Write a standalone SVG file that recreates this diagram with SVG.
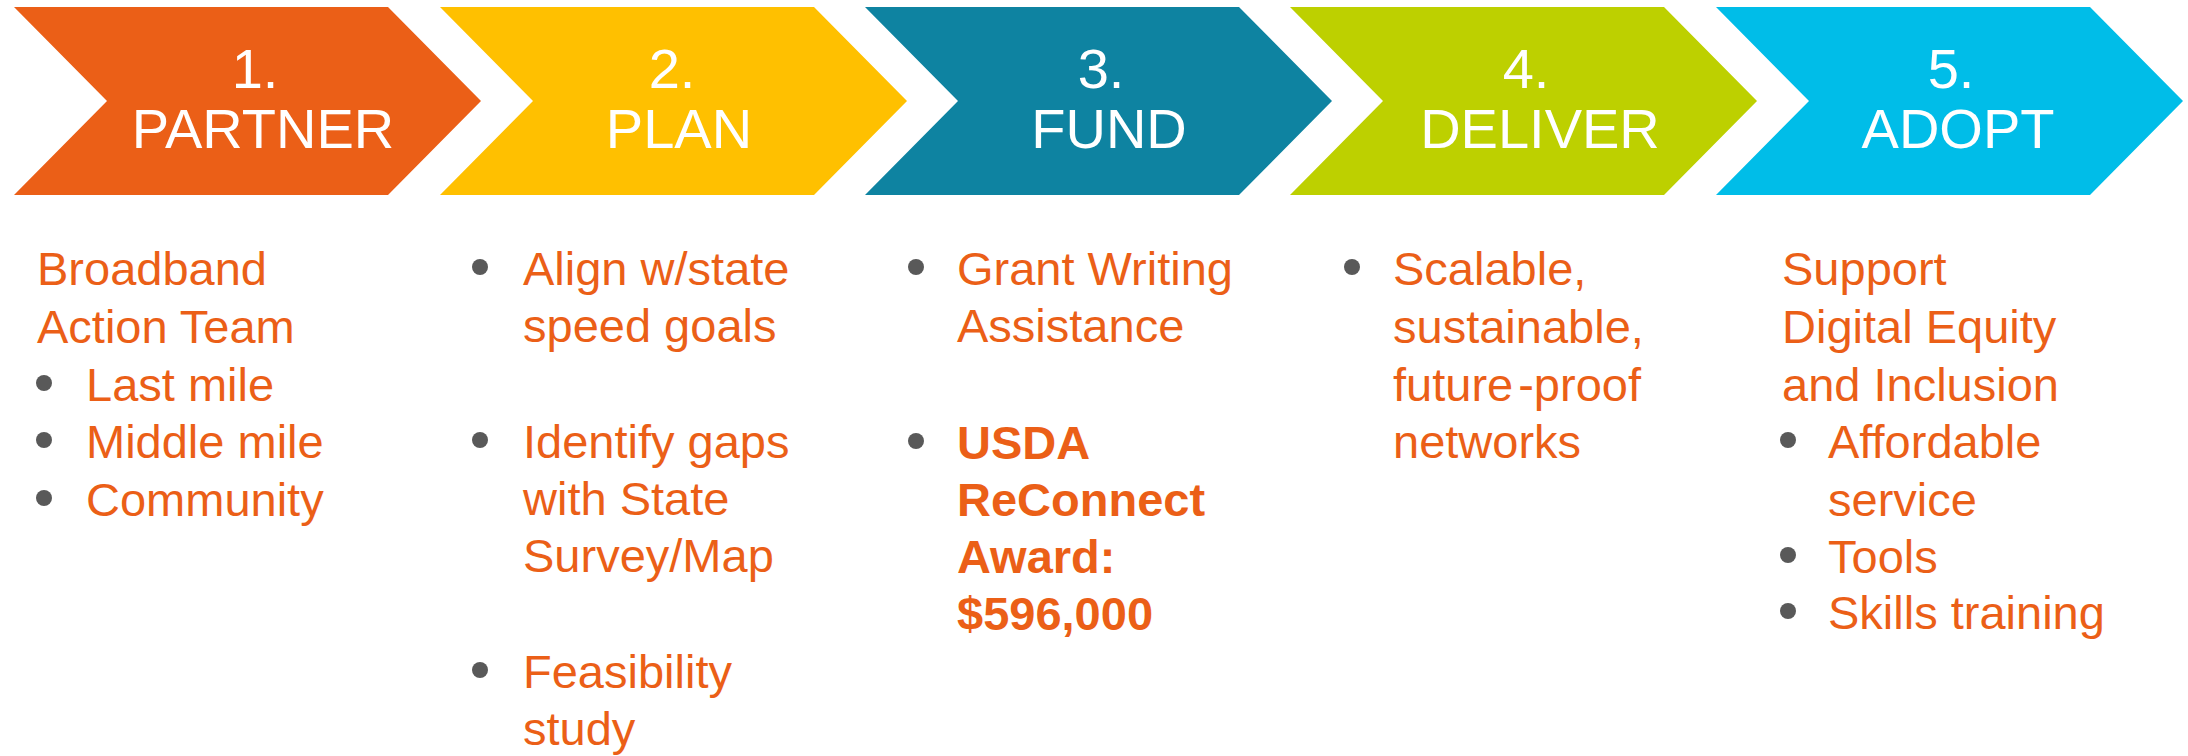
<svg xmlns="http://www.w3.org/2000/svg" width="2188" height="756" viewBox="0 0 2188 756">
<style>
.hd{font-family:"Liberation Sans",Arial,sans-serif;font-size:56px;fill:#fff;text-anchor:middle}
.tx{font-family:"Liberation Sans",Arial,sans-serif;font-size:47px;fill:#EB5F17}
.b{font-weight:bold}
.bu{fill:#595959}
</style>
<rect width="2188" height="756" fill="#fff"/>
<g id="step1">
<polygon points="14,7 388,7 481,101 388,195 14,195 107,101" fill="#EB5F17"/>
<text class="hd" x="255" y="88">1.</text>
<text class="hd" x="263" y="148">PARTNER</text>
</g>
<g id="step2">
<polygon points="440,7 814,7 907,101 814,195 440,195 533,101" fill="#FFC000"/>
<text class="hd" x="672" y="88">2.</text>
<text class="hd" x="679" y="148">PLAN</text>
</g>
<g id="step3">
<polygon points="865,7 1239,7 1332,101 1239,195 865,195 958,101" fill="#0E83A1"/>
<text class="hd" x="1101" y="88">3.</text>
<text class="hd" x="1109" y="148">FUND</text>
</g>
<g id="step4">
<polygon points="1290,7 1664,7 1757,101 1664,195 1290,195 1383,101" fill="#BDD000"/>
<text class="hd" x="1526" y="88">4.</text>
<text class="hd" x="1540" y="148">DELIVER</text>
</g>
<g id="step5">
<polygon points="1716,7 2090,7 2183,101 2090,195 1716,195 1809,101" fill="#00BDE8"/>
<text class="hd" x="1951" y="88">5.</text>
<text class="hd" x="1958" y="148">ADOPT</text>
</g>
<g id="connectors"></g>
<g id="text1">
<text class="tx" x="37" y="285">Broadband</text>
<text class="tx" x="37" y="343">Action Team</text>
<circle class="bu" cx="44" cy="383" r="8"/>
<text class="tx" x="86" y="401">Last mile</text>
<circle class="bu" cx="44" cy="440" r="8"/>
<text class="tx" x="86" y="458">Middle mile</text>
<circle class="bu" cx="44" cy="498" r="8"/>
<text class="tx" x="86" y="516">Community</text>
</g>
<g id="text2">
<circle class="bu" cx="480" cy="267" r="8"/>
<text class="tx" x="523" y="285">Align w/state</text>
<text class="tx" x="523" y="342">speed goals</text>
<circle class="bu" cx="480" cy="440" r="8"/>
<text class="tx" x="523" y="458">Identify gaps</text>
<text class="tx" x="523" y="515">with State</text>
<text class="tx" x="523" y="572">Survey/Map</text>
<circle class="bu" cx="480" cy="670" r="8"/>
<text class="tx" x="523" y="688">Feasibility</text>
<text class="tx" x="523" y="745">study</text>
</g>
<g id="text3">
<circle class="bu" cx="916" cy="267" r="8"/>
<text class="tx" x="957" y="285">Grant Writing</text>
<text class="tx" x="957" y="342">Assistance</text>
<circle class="bu" cx="916" cy="441" r="8"/>
<text class="tx b" x="957" y="459">USDA</text>
<text class="tx b" x="957" y="516">ReConnect</text>
<text class="tx b" x="957" y="573">Award:</text>
<text class="tx b" x="957" y="630">$596,000</text>
</g>
<g id="text4">
<circle class="bu" cx="1352" cy="267" r="8"/>
<text class="tx" x="1393" y="285">Scalable,</text>
<text class="tx" x="1393" y="343">sustainable,</text>
<text class="tx" x="1393" y="401">future<tspan dx="5">-proof</tspan></text>
<text class="tx" x="1393" y="458">networks</text>
</g>
<g id="text5">
<text class="tx" x="1782" y="285">Support</text>
<text class="tx" x="1782" y="343">Digital Equity</text>
<text class="tx" x="1782" y="401">and Inclusion</text>
<circle class="bu" cx="1788" cy="440" r="8"/>
<text class="tx" x="1828" y="458">Affordable</text>
<text class="tx" x="1828" y="516">service</text>
<circle class="bu" cx="1788" cy="555" r="8"/>
<text class="tx" x="1828" y="573">Tools</text>
<circle class="bu" cx="1788" cy="611" r="8"/>
<text class="tx" x="1828" y="629">Skills training</text>
</g>
</svg>
